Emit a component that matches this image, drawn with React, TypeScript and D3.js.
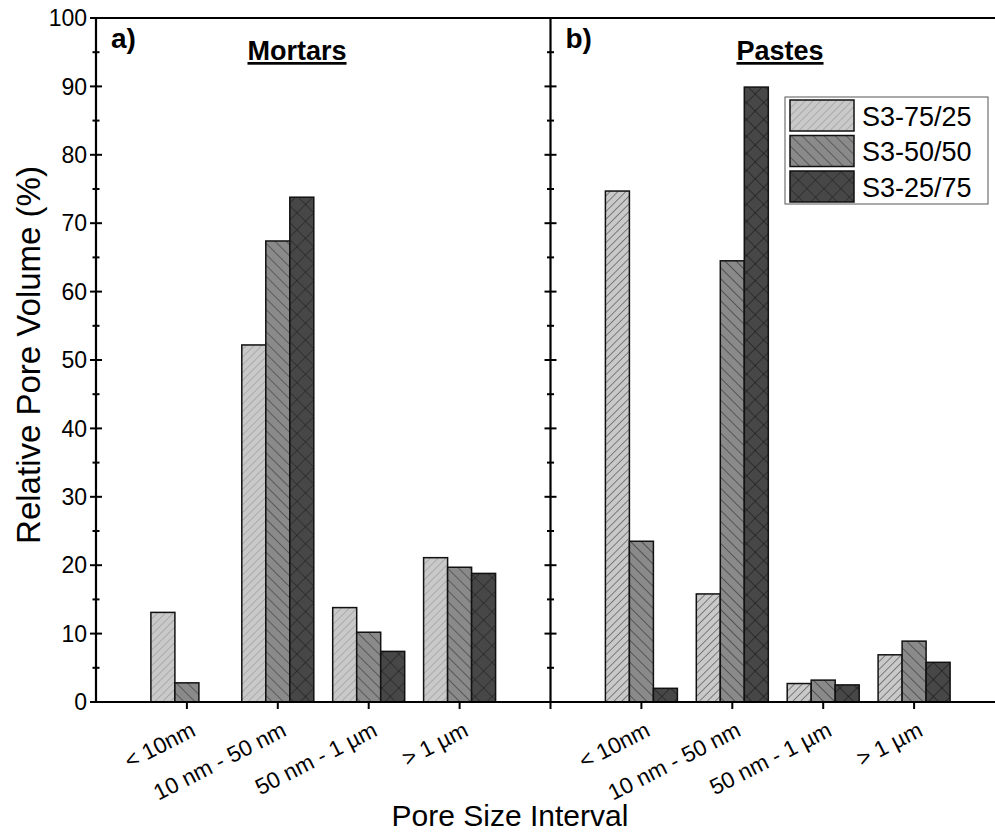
import React from 'react'
import { scaleLinear, scaleBand, range } from 'd3'

const categories = ['< 10nm', '10 nm - 50 nm', '50 nm - 1 µm', '> 1 µm']
const series = ['S3-75/25', 'S3-50/50', 'S3-25/75']

// values per category, one entry per series (null = no bar)
const mortars = [
    [13.1, 2.8, null],
    [52.2, 67.4, 73.8],
    [13.8, 10.2, 7.4],
    [21.1, 19.7, 18.8],
]
const pastes = [
    [74.7, 23.5, 2.0],
    [15.8, 64.5, 89.9],
    [2.7, 3.2, 2.5],
    [6.9, 8.9, 5.8],
]

const panels = [
    { key: 'a', tag: 'a)', title: 'Mortars', titleX: 297, start: 1, data: mortars },
    { key: 'b', tag: 'b)', title: 'Pastes', titleX: 780, start: 6, data: pastes },
]

const yMajor = range(0, 101, 10)
const yMinor = range(5, 100, 10)
const xTicks = range(1, 10)

const fills = ['#c9c9c9', '#8a8a8a', '#474747']

const font = '"Liberation Sans", Arial, sans-serif'

const App = () => {
    const width = 995
    const height = 834
    const left = 96, top = 18, bottom = 702

    const x = scaleLinear().domain([0, 10]).range([left, 1005])
    const y = scaleLinear().domain([0, 100]).range([bottom, top])
    const inner = scaleBand().domain(series).range([-36, 36]).padding(0)

    // hatch patterns, panel a a bit fainter than panel b
    const lineColor = { a: ['#8c8c8c', '#2a2a2a', '#1a1a1a'], b: ['#2a2a2a', '#1e1e1e', '#111'] }

    const pattern = (panel, i) => {
        const id = `p-${panel}-${i}`
        const col = lineColor[panel][i]
        if (i === 0) {
            return (
                <pattern key={id} id={id} width={5.5} height={5.5} patternUnits="userSpaceOnUse" patternTransform="rotate(45)">
                    <rect width={5.5} height={5.5} fill={fills[0]} />
                    <line x1={0} y1={0} x2={0} y2={5.5} stroke={col} strokeWidth={1} />
                </pattern>
            )
        }
        if (i === 1) {
            return (
                <pattern key={id} id={id} width={7.8} height={7.8} patternUnits="userSpaceOnUse" patternTransform="rotate(-45)">
                    <rect width={7.8} height={7.8} fill={fills[1]} />
                    <line x1={0} y1={0} x2={0} y2={7.8} stroke={col} strokeWidth={1} />
                </pattern>
            )
        }
        return (
            <pattern key={id} id={id} width={12} height={12} patternUnits="userSpaceOnUse" patternTransform="rotate(45)">
                <rect width={12} height={12} fill={fills[2]} />
                <line x1={0} y1={0} x2={0} y2={12} stroke={col} strokeWidth={1} />
                <line x1={0} y1={0} x2={12} y2={0} stroke={col} strokeWidth={1} />
            </pattern>
        )
    }

    return (
        <svg width={width} height={height} style={{ position: 'absolute', left: 0, top: 0, background: 'white' }} fontFamily={font}>
            <defs>
                {['a', 'b'].map((p) => [0, 1, 2].map((i) => pattern(p, i)))}
            </defs>

            {/* bars */}
            {panels.map((p) => p.data.map((vals, ci) => vals.map((v, si) => {
                if (v === null) return null
                const cx = x(p.start + ci)
                return (
                    <rect key={`${p.key}-${ci}-${si}`}
                        x={cx + inner(series[si])} y={y(v)}
                        width={inner.bandwidth()} height={y(0) - y(v)}
                        fill={`url(#p-${p.key}-${si})`} stroke="#111" strokeWidth={1.5} />
                )
            })))}

            {/* frame */}
            <line x1={left} x2={width} y1={top} y2={top} stroke="black" strokeWidth={2.2} />
            <line x1={left} x2={width} y1={bottom} y2={bottom} stroke="black" strokeWidth={2.2} />
            <line x1={left} x2={left} y1={top - 1} y2={bottom + 1} stroke="black" strokeWidth={2.2} />
            <line x1={x(5)} x2={x(5)} y1={top} y2={bottom} stroke="black" strokeWidth={2.2} />

            {/* y ticks */}
            {yMajor.map((t) => (
                <g key={`ym${t}`}>
                    <line x1={left - 6} x2={left + 6} y1={y(t)} y2={y(t)} stroke="black" strokeWidth={2} />
                    <text x={left - 9} y={y(t)} dy="0.36em" textAnchor="end" fontSize={23}>{t}</text>
                </g>
            ))}
            {yMinor.map((t) => (
                <line key={`yn${t}`} x1={left - 3.5} x2={left + 3.5} y1={y(t)} y2={y(t)} stroke="black" strokeWidth={2} />
            ))}
            {/* ticks on the divider too */}
            {yMajor.map((t) => (
                <line key={`dm${t}`} x1={x(5) - 6} x2={x(5) + 6} y1={y(t)} y2={y(t)} stroke="black" strokeWidth={2} />
            ))}
            {yMinor.map((t) => (
                <line key={`dn${t}`} x1={x(5) - 3.5} x2={x(5) + 3.5} y1={y(t)} y2={y(t)} stroke="black" strokeWidth={2} />
            ))}

            {/* x ticks */}
            {xTicks.map((t) => (
                <line key={`xt${t}`} x1={x(t)} x2={x(t)} y1={bottom} y2={bottom + 7} stroke="black" strokeWidth={2} />
            ))}

            {/* category labels */}
            {panels.map((p) => categories.map((c, ci) => {
                const tx = x(p.start + ci) + 10
                return (
                    <text key={`cl${p.key}${ci}`} transform={`translate(${tx},735) rotate(-27)`} textAnchor="end" fontSize={22.5}>{c}</text>
                )
            }))}

            {/* panel tags and titles */}
            {panels.map((p) => (
                <g key={`t${p.key}`}>
                    <text x={x(p.start - 1) + 15} y={48} fontSize={28} fontWeight="bold">{p.tag}</text>
                    <text x={p.titleX} y={60} textAnchor="middle" fontSize={27} fontWeight="bold" textDecoration="underline">{p.title}</text>
                </g>
            ))}

            {/* legend */}
            <g transform="translate(785,97)">
                <rect x={0} y={0} width={203} height={107} fill="white" stroke="#555" strokeWidth={1} />
                {series.map((s, i) => (
                    <g key={s} transform={`translate(5,${3 + i * 35.5})`}>
                        <rect width={64} height={31} fill={`url(#p-a-${i})`} stroke="#111" strokeWidth={1.5} />
                        <text x={72} y={16} dy="0.36em" fontSize={27}>{s}</text>
                    </g>
                ))}
            </g>

            {/* axis titles */}
            <text transform={`translate(40,355) rotate(-90)`} textAnchor="middle" fontSize={33}>Relative Pore Volume (%)</text>
            <text x={510} y={826} textAnchor="middle" fontSize={30}>Pore Size Interval</text>
        </svg>
    )
}

export default App
